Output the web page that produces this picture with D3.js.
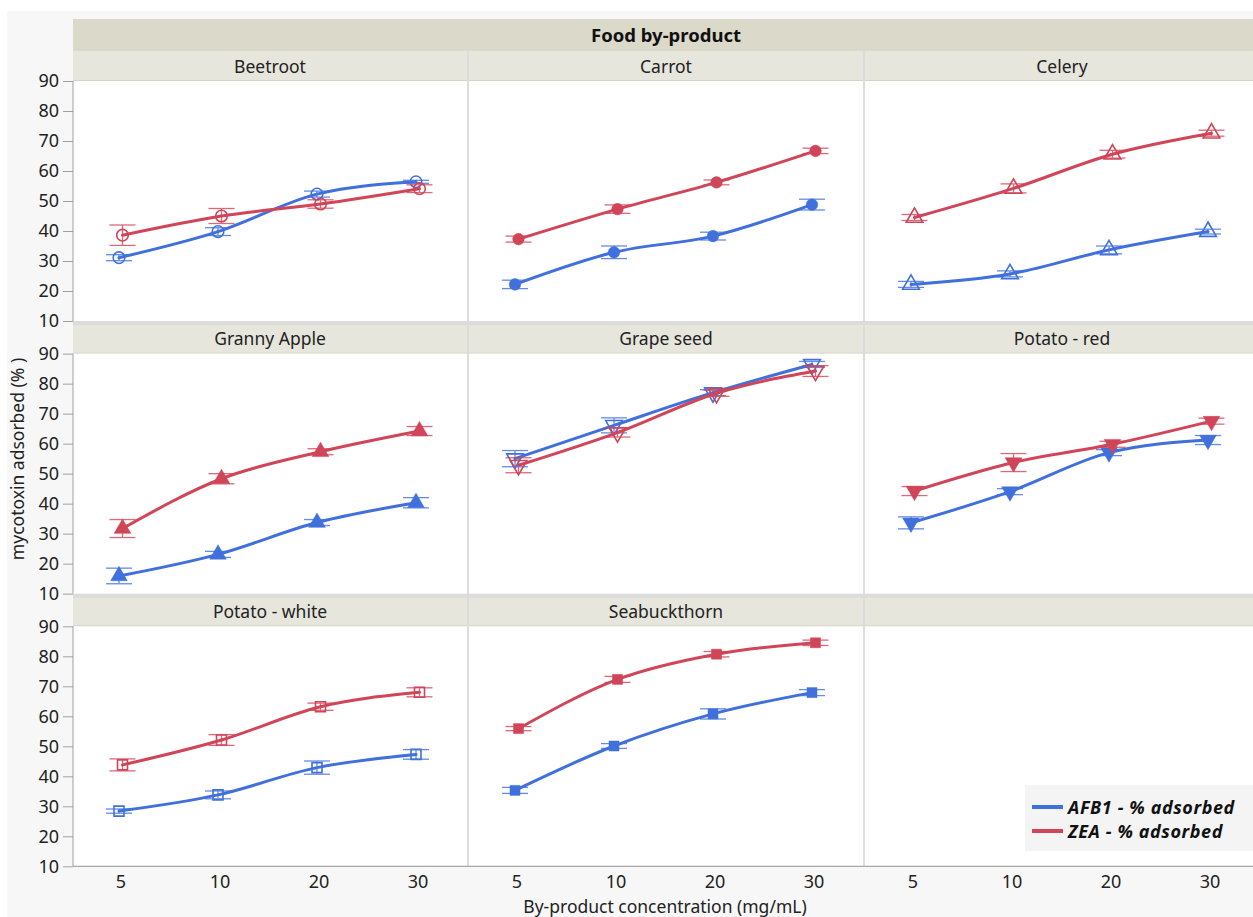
<!DOCTYPE html>
<html>
<head>
<meta charset="utf-8">
<script src="https://cdn.jsdelivr.net/npm/d3@7"></script>
<style>
  body { margin: 0; background: #ffffff; }
  text { font-family: "Noto Sans", "Open Sans", sans-serif; }
</style>
</head>
<body>
<svg id="chart" width="1253" height="917"></svg>
<script>
// ---- data ---------------------------------------------------------------
const panelNames = ["Beetroot", "Carrot", "Celery", "Granny Apple", "Grape seed",
                    "Potato - red", "Potato - white", "Seabuckthorn"];
const concentrations = ["5", "10", "20", "30"];
const yTicks = [10, 20, 30, 40, 50, 60, 70, 80, 90];
const seriesNames = ["AFB1 - % adsorbed", "ZEA - % adsorbed"];

// mean % adsorbed per panel, per concentration
const afb1Mean = [
  [31.1, 39.8, 52.3, 56.4],
  [22.2, 32.9, 38.3, 48.8],
  [22.2, 25.7, 33.7, 39.8],
  [15.9, 23.1, 33.7, 40.3],
  [55.0, 66.1, 77.0, 86.4],
  [33.6, 44.0, 57.0, 61.2],
  [28.4, 33.8, 42.9, 47.3],
  [35.3, 50.1, 60.8, 67.9]
];
const afb1Err = [
  [1.0, 1.3, 1.0, 0.5],
  [1.4, 2.1, 1.3, 1.8],
  [1.0, 1.0, 1.3, 0.8],
  [2.6, 1.0, 1.0, 1.7],
  [2.7, 2.5, 1.0, 1.0],
  [2.0, 1.0, 1.0, 1.5],
  [0.7, 1.3, 2.2, 1.6],
  [1.0, 0.8, 1.7, 1.0]
];
const zeaMean = [
  [38.6, 45.0, 49.0, 54.1],
  [37.3, 47.3, 56.2, 66.7],
  [44.5, 54.2, 65.6, 72.6],
  [31.7, 48.3, 57.3, 64.2],
  [52.8, 63.7, 76.8, 84.2],
  [44.2, 53.7, 59.8, 67.5],
  [43.8, 52.1, 63.2, 68.0],
  [55.9, 72.3, 80.7, 84.5]
];
const zeaErr = [
  [3.4, 2.5, 1.4, 1.3],
  [1.0, 1.4, 0.8, 0.9],
  [1.0, 1.5, 1.3, 1.0],
  [3.0, 1.7, 1.0, 1.5],
  [2.5, 1.5, 1.0, 1.8],
  [1.5, 3.0, 1.0, 1.0],
  [2.0, 1.8, 1.2, 1.5],
  [0.7, 1.0, 0.9, 0.9]
];

// ---- styling / layout ----------------------------------------------------
const colors = ["#4070dc", "#d04558"];
const dodge = [-1.5, 2];
const markerSpec = [
  { type: d3.symbolCircle,   filled: false, rot: 0 },
  { type: d3.symbolCircle,   filled: true,  rot: 0 },
  { type: d3.symbolTriangle, filled: false, rot: 0 },
  { type: d3.symbolTriangle, filled: true,  rot: 0 },
  { type: d3.symbolTriangle, filled: false, rot: 180 },
  { type: d3.symbolTriangle, filled: true,  rot: 180 },
  { type: d3.symbolSquare,   filled: false, rot: 0 },
  { type: d3.symbolSquare,   filled: true,  rot: 0 }
];

const W = 1253, H = 917;
const gridLeft = 73, colPitch = 396, cellW = 394;
const firstPlotTop = 81, rowPitch = 272.65, plotH = 240, stripH = 30;

const svg = d3.select("#chart");

// page background
svg.append("rect").attr("x", 7).attr("y", 11).attr("width", W - 7).attr("height", H - 11)
  .attr("fill", "#f7f7f7");

// grid backing (shows as thin separators between cells)
svg.append("rect").attr("x", gridLeft).attr("y", firstPlotTop - stripH)
  .attr("width", W - gridLeft).attr("height", 2 * rowPitch + plotH + stripH)
  .attr("fill", "#dcdcdc");

// top header
svg.append("rect").attr("x", gridLeft).attr("y", 19).attr("width", W - gridLeft).attr("height", 32)
  .attr("fill", "#dbd9ca");
svg.append("text").attr("x", gridLeft + (3 * colPitch) / 2 - 1).attr("y", 41.5)
  .attr("text-anchor", "middle").attr("font-size", 18.5).attr("font-weight", "bold")
  .attr("fill", "#111").text("Food by-product");

const y = d3.scaleLinear().domain([10, 90]);
const line = d3.line().curve(d3.curveMonotoneX);

for (let cell = 0; cell < 9; cell++) {
  const r = Math.floor(cell / 3), c = cell % 3;
  const left = gridLeft + c * colPitch;
  const plotTop = firstPlotTop + r * rowPitch;
  const stripTop = plotTop - stripH;
  y.range([plotTop + plotH, plotTop]);
  const x = d3.scalePoint().domain(concentrations).range([left - 2, left + colPitch - 2]).padding(0.5);

  const g = svg.append("g");
  g.append("rect").attr("x", left).attr("y", stripTop + (r === 0 ? 0 : 1.5))
    .attr("width", cellW).attr("height", stripH - (r === 0 ? 0 : 1.5)).attr("fill", "#e7e6dd");
  g.append("line").attr("x1", left).attr("x2", left + cellW)
    .attr("y1", plotTop - 0.5).attr("y2", plotTop - 0.5).attr("stroke", "#d6d4c6");
  g.append("rect").attr("x", left).attr("y", plotTop).attr("width", cellW).attr("height", plotH)
    .attr("fill", "#ffffff");

  if (cell < panelNames.length) {
    g.append("text").attr("x", left + cellW / 2).attr("y", stripTop + 21.5)
      .attr("text-anchor", "middle").attr("font-size", 17.5).attr("fill", "#222")
      .text(panelNames[cell]);

    const series = [
      { mean: afb1Mean[cell], err: afb1Err[cell] },
      { mean: zeaMean[cell],  err: zeaErr[cell] }
    ];
    const spec = markerSpec[cell];
    const sym = d3.symbol().type(spec.type).size(spec.type === d3.symbolSquare ? 100 : (spec.type === d3.symbolTriangle ? 120 : 105));

    series.forEach((s, si) => {
      const pts = concentrations.map((k, i) => ({ px: x(k) + dodge[si], v: s.mean[i], e: s.err[i] }));
      const col = colors[si];
      const eb = g.append("g").attr("stroke", col).attr("stroke-width", 1.3).attr("opacity", 0.8);
      pts.forEach(p => {
        eb.append("line").attr("x1", p.px).attr("x2", p.px).attr("y1", y(p.v - p.e)).attr("y2", y(p.v + p.e));
        [p.v - p.e, p.v + p.e].forEach(v => {
          eb.append("line").attr("x1", p.px - 13).attr("x2", p.px + 13).attr("y1", y(v)).attr("y2", y(v));
        });
      });
      g.append("path").attr("d", line(pts.map(p => [p.px, y(p.v)])))
        .attr("fill", "none").attr("stroke", col).attr("stroke-width", 3)
        .attr("stroke-linecap", "round");
      pts.forEach(p => {
        g.append("path").attr("d", sym())
          .attr("transform", `translate(${p.px},${y(p.v)}) rotate(${spec.rot})`)
          .attr("fill", spec.filled ? col : "none")
          .attr("stroke", col).attr("stroke-width", spec.filled ? 0.5 : 1.6);
      });
    });
  }

  // left axis for first column of each row
  if (c === 0) {
    const ax = svg.append("g").attr("transform", `translate(${gridLeft},0)`)
      .call(d3.axisLeft(y).tickValues(yTicks).tickSize(10).tickPadding(4).tickFormat(d3.format("d")));
    ax.select(".domain").attr("stroke", "#a0a0a0").attr("d", `M0,${plotTop}V${plotTop + plotH}`);
    ax.selectAll(".tick line").attr("stroke", "#a0a0a0");
    ax.selectAll(".tick text").attr("font-size", 18).attr("fill", "#222")
      .attr("font-family", "\"Noto Sans\", sans-serif");
  }

  // bottom axis for last row
  if (r === 2) {
    const bx = svg.append("g").attr("transform", `translate(0,${plotTop + plotH})`)
      .call(d3.axisBottom(x).tickSize(0).tickPadding(9));
    bx.select(".domain").remove();
    bx.selectAll(".tick text").attr("font-size", 18).attr("fill", "#222")
      .attr("font-family", "\"Noto Sans\", sans-serif");
  }
}

// bottom axis line
const bottomY = firstPlotTop + 2 * rowPitch + plotH;
svg.append("line").attr("x1", gridLeft).attr("x2", W).attr("y1", bottomY).attr("y2", bottomY)
  .attr("stroke", "#a8a8a8").attr("stroke-width", 1.2);

// axis titles
svg.append("text").attr("transform", "translate(24,459) rotate(-90)")
  .attr("text-anchor", "middle").attr("font-size", 17.5).attr("fill", "#222")
  .text("mycotoxin adsorbed (% )");
svg.append("text").attr("x", 665).attr("y", 913)
  .attr("text-anchor", "middle").attr("font-size", 17.5).attr("fill", "#222")
  .text("By-product concentration (mg/mL)");

// legend
const lg = svg.append("g");
lg.append("rect").attr("x", 1025).attr("y", 785).attr("width", 240).attr("height", 66).attr("fill", "#f4f4f4");
seriesNames.forEach((name, i) => {
  const ly = 807 + i * 24;
  lg.append("line").attr("x1", 1032).attr("x2", 1063).attr("y1", ly).attr("y2", ly)
    .attr("stroke", colors[i]).attr("stroke-width", 4);
  lg.append("text").attr("x", 1068).attr("y", ly + 6.5)
    .attr("font-size", 18).attr("letter-spacing", 0.6)
    .attr("font-weight", "bold").attr("font-style", "italic")
    .attr("fill", "#111").text(name);
});
</script>
</body>
</html>
